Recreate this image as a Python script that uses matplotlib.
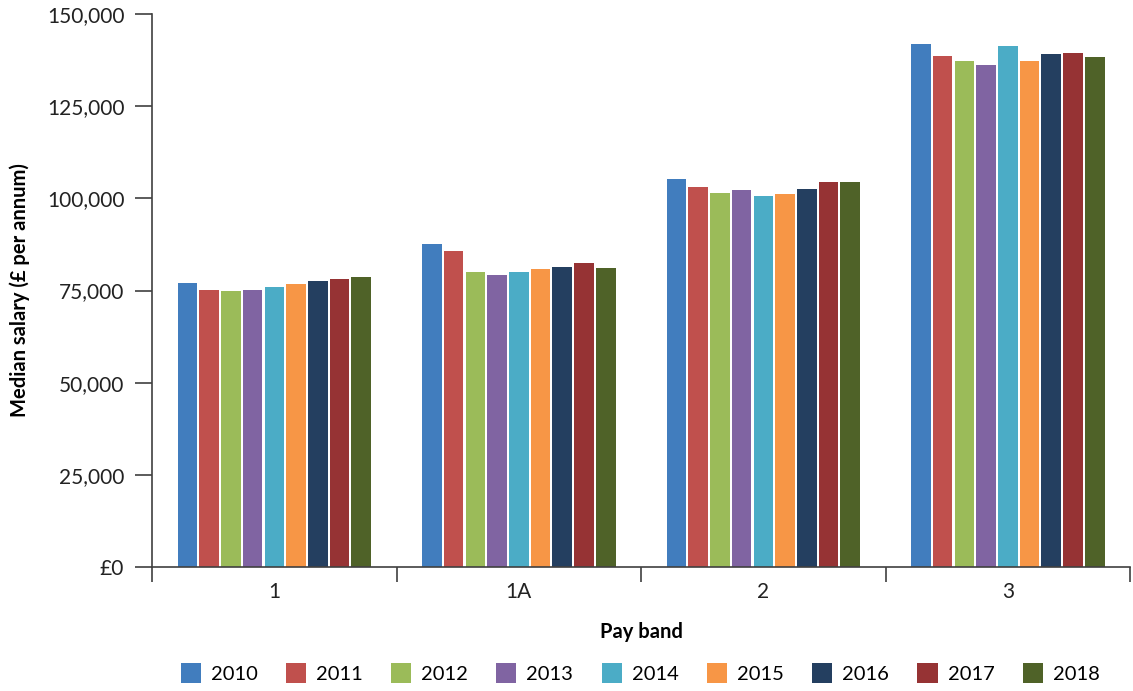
import matplotlib.pyplot as plt
import numpy as np
from matplotlib.ticker import FuncFormatter, FixedLocator

# pay bands and yearly medians
bands = ['1', '1A', '2', '3']
years = ['2010', '2011', '2012', '2013', '2014', '2015', '2016', '2017', '2018']
s2010 = [77000, 87600, 105300, 141900]
s2011 = [75100, 85700, 103100, 138700]
s2012 = [74800, 80000, 101500, 137300]
s2013 = [75100, 79200, 102300, 136200]
s2014 = [75900, 80000, 100600, 141400]
s2015 = [76800, 80800, 101200, 137300]
s2016 = [77600, 81400, 102600, 139200]
s2017 = [78200, 82400, 104500, 139500]
s2018 = [78700, 81100, 104500, 138400]
series = [s2010, s2011, s2012, s2013, s2014, s2015, s2016, s2017, s2018]

colors = ['#417dbe', '#c0504d', '#9bbb59', '#8064a2', '#4bacc6',
          '#f79646', '#243f60', '#963334', '#4f6228']

plt.rcParams['font.family'] = ['Lato', 'DejaVu Sans']
axcol = '#404040'

fig = plt.figure(figsize=(11.33, 6.91), dpi=100)
ax = fig.add_axes([0.1342, 0.1794, 0.8632, 0.8003])

x = np.arange(len(bands))
n = len(years)
slot = 0.8 / n
for i, (yr, vals) in enumerate(zip(years, series)):
    ax.bar(x - 0.4 + slot * (i + 0.5), vals, width=slot * 0.9,
           color=colors[i], label=yr)

ax.set_xlim(-0.5, len(bands) - 0.5)
ax.set_ylim(0, 150000)
ax.set_yticks(np.arange(0, 150001, 25000))
ax.yaxis.set_major_formatter(FuncFormatter(lambda v, p: '£0' if v == 0 else f'{int(v):,}'))

# group separators as ticks, labels on minor ticks
ax.xaxis.set_major_locator(FixedLocator(np.arange(-0.5, len(bands), 1.0)))
ax.xaxis.set_major_formatter(FuncFormatter(lambda v, p: ''))
ax.xaxis.set_minor_locator(FixedLocator(x))
ax.set_xticklabels(bands, minor=True)
ax.tick_params(axis='x', which='major', length=11, width=1.2, color=axcol, direction='out')
ax.tick_params(axis='x', which='minor', length=0, pad=11, labelsize=15, labelcolor='#222222')
ax.tick_params(axis='y', length=12, width=1.2, color=axcol, pad=8, labelsize=15, labelcolor='#222222')

for s in ['top', 'right']:
    ax.spines[s].set_visible(False)
for s in ['left', 'bottom']:
    ax.spines[s].set_color(axcol)
    ax.spines[s].set_linewidth(1.2)

ax.set_ylabel('Median salary (£ per annum)', fontsize=14.5, fontweight='bold', labelpad=12)
ax.set_xlabel('Pay band', fontsize=14.5, fontweight='bold', labelpad=14)

ax.legend(loc='upper center', bbox_to_anchor=(0.499, -0.155), ncol=n, frameon=False,
          fontsize=14.5, handlelength=1.0, handleheight=1.2, handletextpad=0.5,
          columnspacing=1.4, borderpad=0)

fig.savefig('out.png', dpi=100)
